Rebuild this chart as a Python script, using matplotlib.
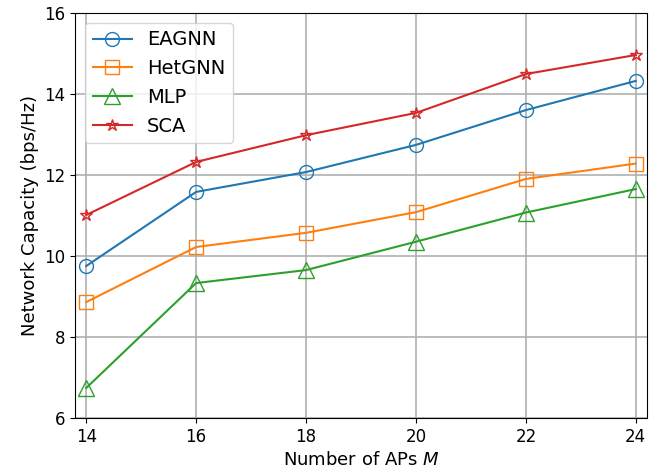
import numpy as np
import matplotlib.pyplot as plt

num_aps = [14, 16, 18, 20, 22, 24]
eagnn = [9.75, 11.58, 12.07, 12.74, 13.6, 14.32]
hetgnn = [8.86, 10.22, 10.57, 11.08, 11.9, 12.28]
mlp = [6.74, 9.33, 9.65, 10.35, 11.07, 11.65]
sca = [11.01, 12.32, 12.98, 13.53, 14.49, 14.96]

fig = plt.figure(figsize=(6.6, 4.76), dpi=100)
ax = fig.add_axes([0.114, 0.122, 0.866, 0.851])

ax.plot(num_aps, eagnn, color='tab:blue', marker='o', markersize=10,
        markerfacecolor='none', linewidth=1.5, label='EAGNN')
ax.plot(num_aps, hetgnn, color='tab:orange', marker='s', markersize=10,
        markerfacecolor='none', linewidth=1.5, label='HetGNN')
ax.plot(num_aps, mlp, color='tab:green', marker='^', markersize=11,
        markerfacecolor='none', linewidth=1.5, label='MLP')
ax.plot(num_aps, sca, color='tab:red', marker='*', markersize=9,
        markerfacecolor='none', linewidth=1.5, label='SCA')

ax.set_xlim(13.8, 24.2)
ax.set_ylim(6, 16)
ax.set_xticks(num_aps)
ax.set_yticks([6, 8, 10, 12, 14, 16])
ax.tick_params(labelsize=12)
ax.grid(True, color='#b0b0b0', linewidth=1.2)
ax.set_xlabel('Number of APs $M$', fontsize=13)
ax.set_ylabel('Network Capacity (bps/Hz)', fontsize=13)
ax.legend(loc='upper left', fontsize=14)

fig.savefig('out.png', dpi=100)
